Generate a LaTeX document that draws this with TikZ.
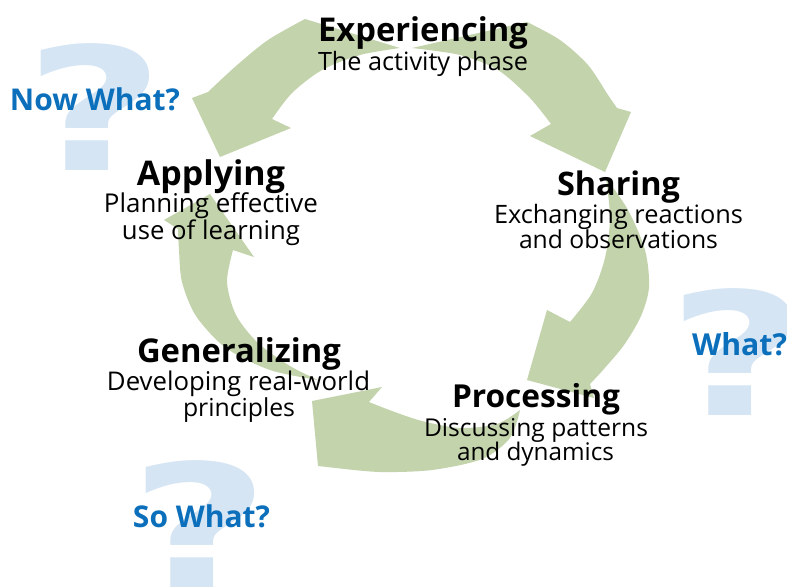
\documentclass[tikz,border=0pt]{standalone}
\usepackage{fontspec}
\setmainfont{Open Sans}
\newfontfamily\qfont{DejaVu Sans}
\usepackage{graphicx}
\definecolor{arrowgreen}{HTML}{C3D3AC}
\definecolor{qblue}{HTML}{D5E5F4}
\definecolor{askblue}{HTML}{0B6FBB}
\newcommand\fitw[2]{\resizebox{#1pt}{!}{#2}}
\tikzset{
  titletext/.style={anchor=base, inner sep=0pt, font=\bfseries\fontsize{30}{30}\selectfont},
  subtext/.style={anchor=base, inner sep=0pt, font=\fontsize{24}{24}\selectfont},
  asktext/.style={anchor=base, inner sep=0pt, text=askblue, font=\bfseries\fontsize{30}{30}\selectfont},
  qmark/.style={anchor=base, inner sep=0pt, text=qblue, font=\qfont\bfseries\fontsize{171}{171}\selectfont},
  cyc/.style={fill=arrowgreen, draw=none}
}
\begin{document}
\begin{tikzpicture}[x=1pt,y=-1pt]
\useasboundingbox (0,0) rectangle (787,587);
\fill[white] (0,0) rectangle (787,587);

% question marks
\node[qmark] (q1) at (95,170) {\scalebox{1.42}[1]{?}};
\node[qmark] (q2) at (738,415) {\scalebox{1.42}[1]{?}};
\node[qmark] (q3) at (200,587) {\scalebox{1.42}[1]{?}};

% arrows
% Experiencing -> Applying
\fill[cyc] (400,48) -- (305,19) -- plot[smooth] coordinates {(305,19) (268,40) (236,66) (208,92)}
  -- (192,98) -- (220,157) -- (291,128) -- (272,119)
  -- plot[smooth] coordinates {(272,119) (292,93) (322,70) (360,55) (400,48)} -- cycle;
% Experiencing -> Sharing
\fill[cyc] (412,48) -- (527,22) -- plot[smooth] coordinates {(527,22) (560,40) (588,65) (608,95) (617,108)}
  -- (631,112) -- (605,172) -- (530,136) -- (551,124)
  -- plot[smooth] coordinates {(551,124) (530,98) (498,70) (460,55) (412,48)} -- cycle;
% Sharing -> Processing
\fill[cyc] (606,178) -- plot[smooth] coordinates {(606,178) (628,210) (645,250) (649,287) (641,316) (624,345) (603,370) (590,384)}
  -- (594,398) -- (527,380) -- (547,310) -- (570,322)
  -- plot[smooth] coordinates {(570,322) (592,293) (605,258) (610,218) (606,178)} -- cycle;
% Processing -> Generalizing
\fill[cyc] (520,410) -- plot[smooth] coordinates {(520,410) (510,438) (482,459) (432,470) (380,472) (336,468)}
  -- (318,466) -- (312,401) -- (382,387) -- (369,402)
  -- plot[smooth] coordinates {(369,402) (392,411) (422,421) (460,428) (497,424) (520,410)} -- cycle;
% Generalizing -> Applying
\fill[cyc] (318,380) -- plot[smooth] coordinates {(318,380) (270,370) (226,348) (196,316) (182,282) (179,250) (178,229)}
  -- (164,220) -- (210,194) -- (254,257) -- (233,250)
  -- plot[smooth] coordinates {(233,250) (227,282) (236,315) (258,343) (290,366) (318,380)} -- cycle;

% labels
\node[titletext] (exp) at (423,41) {\fitw{210}{Experiencing}};
\node[subtext] (exps) at (423,70) {\fitw{210}{The activity phase}};
\node[titletext] (app) at (211,185) {\fitw{148}{Applying}};
\node[subtext] (app1) at (211,212) {\fitw{214}{Planning effective}};
\node[subtext] (app2) at (211,239) {\fitw{178}{use of learning}};
\node[titletext] (sha) at (618.5,195) {\fitw{123}{Sharing}};
\node[subtext] (sha1) at (618.5,223) {\fitw{249}{Exchanging reactions}};
\node[subtext] (sha2) at (618.5,248) {\fitw{199}{and observations}};
\node[titletext] (gen) at (239,362) {\fitw{204}{Generalizing}};
\node[subtext] (gen1) at (238.5,390) {\fitw{263}{Developing real-world}};
\node[subtext] (gen2) at (239,416) {\fitw{112}{principles}};
\node[titletext] (pro) at (536,407) {\fitw{168}{Processing}};
\node[subtext] (pro1) at (536,436) {\fitw{224}{Discussing patterns}};
\node[subtext] (pro2) at (535.5,460) {\fitw{157}{and dynamics}};

\node[asktext] (now) at (95,110) {\fitw{170}{Now What?}};
\node[asktext] (what) at (739.5,355) {\fitw{95}{What?}};
\node[asktext] (so) at (201.5,527) {\fitw{137}{So What?}};
\end{tikzpicture}
\end{document}
